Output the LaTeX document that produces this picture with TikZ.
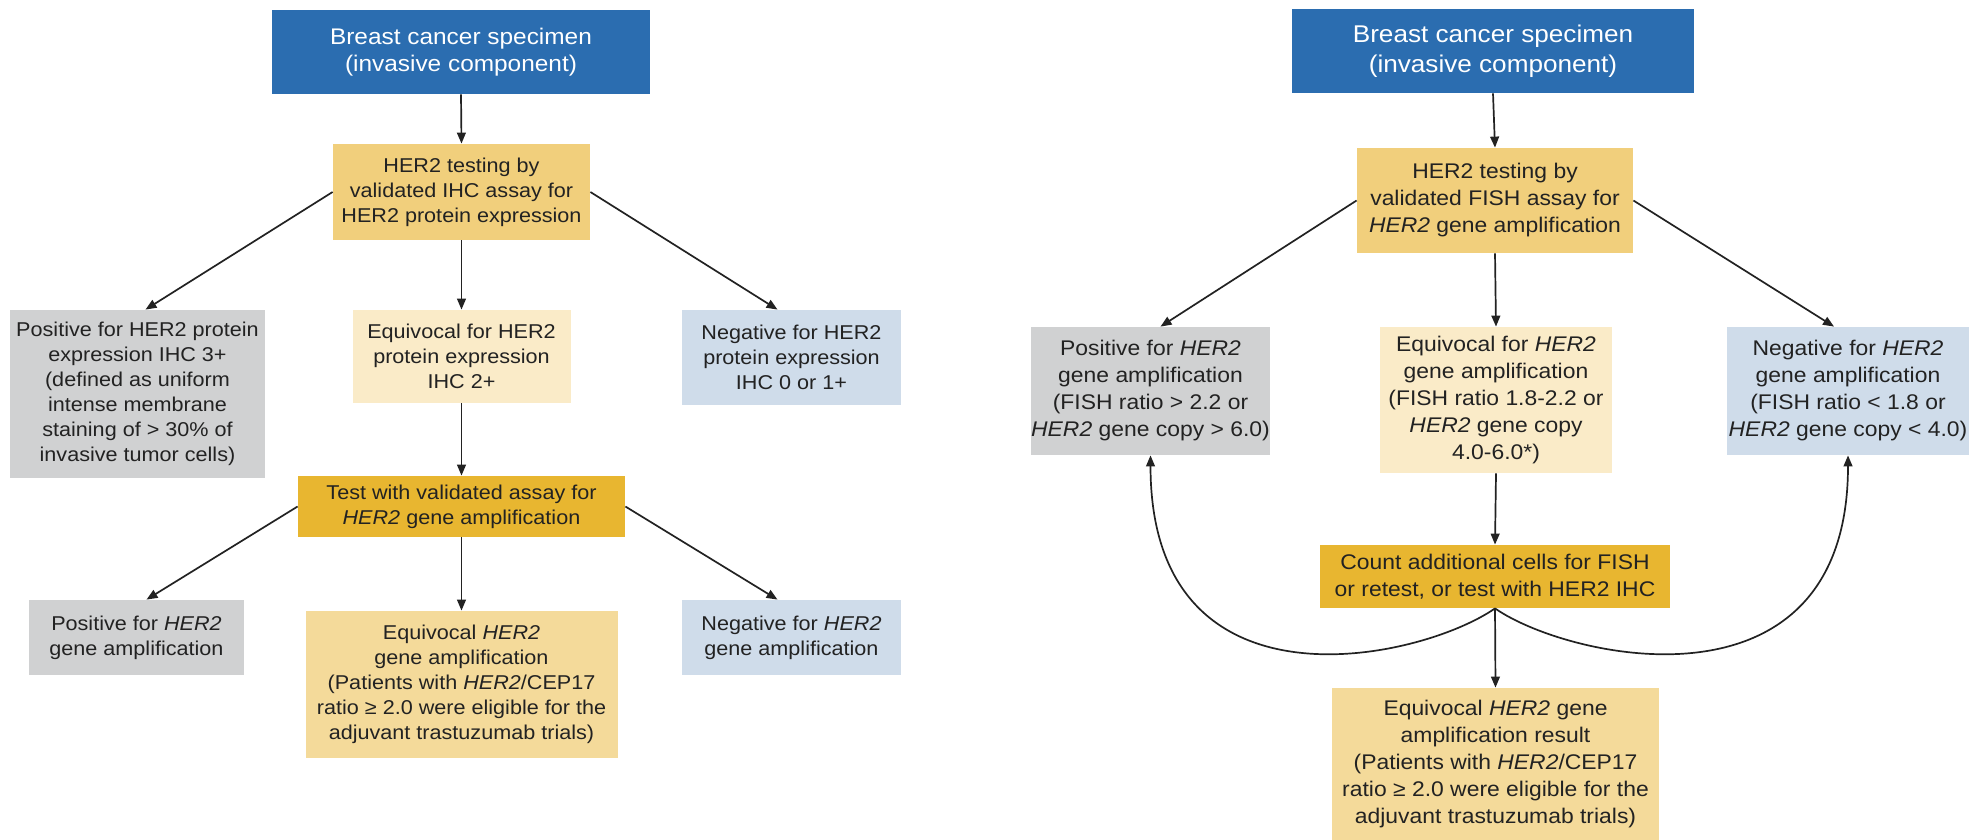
\documentclass[tikz,border=0pt]{standalone}
\usepackage{fontspec}
\setmainfont{Liberation Sans}[FakeStretch=1.08]
\usetikzlibrary{arrows.meta}
\definecolor{cblue}{HTML}{2B6DB0}
\definecolor{cgold}{HTML}{F1CF7C}
\definecolor{cgray}{HTML}{D0D1D2}
\definecolor{clight}{HTML}{FAEBC8}
\definecolor{cneg}{HTML}{CFDCEA}
\definecolor{cdark}{HTML}{E8B630}
\definecolor{cmed}{HTML}{F4DA9A}
\definecolor{ctxt}{HTML}{222222}
\begin{document}
\begin{tikzpicture}[x=0.5pt,y=-0.5pt,
  bx/.style={inner sep=0pt, align=center, text=ctxt, font=\fontsize{10}{12.5}\selectfont},
  bxr/.style={bx, font=\fontsize{10.6}{13.5}\selectfont},
  sz/.style 2 args={minimum width=#1*0.5pt, minimum height=#2*0.5pt},
  arr/.style={-{Triangle[length=5.5pt,width=4.4pt]}, line width=0.85pt, draw=ctxt}]
\useasboundingbox[fill=white] (0,0) rectangle (1975,840);

% ---------------- left panel ----------------
\node[bx, sz={378}{84}, fill=cblue, text=white, font=\fontsize{11.3}{13.3}\selectfont] (bL) at (461,52)
  {Breast cancer specimen\\(invasive component)};
\node[bx, sz={257}{96}, fill=cgold] (ihc) at (461.5,192)
  {HER2 testing by\\validated IHC assay for\\HER2 protein expression};
\node[bx, sz={255}{168}, fill=cgray] (posI) at (137.5,394)
  {Positive for HER2 protein\\expression IHC 3+\\(defined as uniform\\intense membrane\\staining of > 30\% of\\invasive tumor cells)};
\node[bx, sz={218}{93}, fill=clight] (eqI) at (461.5,356.5)
  {Equivocal for HER2\\protein expression\\IHC 2+};
\node[bx, sz={219}{95}, fill=cneg] (negI) at (791.5,357.5)
  {Negative for HER2\\protein expression\\IHC 0 or 1+};
\node[bx, sz={327}{61}, fill=cdark] (test) at (461.5,506.5)
  {Test with validated assay for\\\textit{HER2} gene amplification};
\node[bx, sz={215}{75}, fill=cgray] (posG) at (136.5,637.5)
  {Positive for \textit{HER2}\\gene amplification};
\node[bx, sz={312}{147}, fill=cmed] (eqG) at (461.5,684.5)
  {Equivocal \textit{HER2}\\gene amplification\\(Patients with \textit{HER2}/CEP17\\ratio ≥ 2.0 were eligible for the\\adjuvant trastuzumab trials)};
\node[bx, sz={219}{75}, fill=cneg] (negG) at (791.5,637.5)
  {Negative for \textit{HER2}\\gene amplification};

\draw[arr] (bL.south) -- (ihc.north);
\draw[arr] (ihc.west) -- ([xshift=4pt]posI.north);
\draw[arr] (ihc.south) -- (eqI.north);
\draw[arr] (ihc.east) -- ([xshift=-7pt]negI.north);
\draw[arr] (eqI.south) -- (test.north);
\draw[arr] (test.west) -- ([xshift=5pt]posG.north);
\draw[arr] (test.south) -- (eqG.north);
\draw[arr] (test.east) -- ([xshift=-7pt]negG.north);

% ---------------- right panel ----------------
\node[bx, sz={402}{84}, fill=cblue, text=white, font=\fontsize{12.1}{15}\selectfont] (bR) at (1493,51)
  {Breast cancer specimen\\(invasive component)};
\node[bxr, sz={276}{105}, fill=cgold] (fish) at (1495,200.5)
  {HER2 testing by\\validated FISH assay for\\\textit{HER2} gene amplification};
\node[bxr, sz={239}{128}, fill=cgray] (posF) at (1150.5,391)
  {Positive for \textit{HER2}\\gene amplification\\(FISH ratio > 2.2 or\\\textit{HER2} gene copy > 6.0)};
\node[bxr, sz={232}{146}, fill=clight] (eqF) at (1496,400)
  {Equivocal for \textit{HER2}\\gene amplification\\(FISH ratio 1.8-2.2 or\\\textit{HER2} gene copy\\4.0-6.0*)};
\node[bxr, sz={242}{128}, fill=cneg] (negF) at (1848,391)
  {Negative for \textit{HER2}\\gene amplification\\(FISH ratio < 1.8 or\\\textit{HER2} gene copy < 4.0)};
\node[bxr, sz={350}{63}, fill=cdark] (count) at (1495,576.5)
  {Count additional cells for FISH\\or retest, or test with HER2 IHC};
\node[bxr, sz={327}{152}, fill=cmed] (final) at (1495.5,764)
  {Equivocal \textit{HER2} gene\\amplification result\\(Patients with \textit{HER2}/CEP17\\ratio ≥ 2.0 were eligible for the\\adjuvant trastuzumab trials)};

\draw[arr] (bR.south) -- (fish.north);
\draw[arr] (fish.west) -- ([xshift=5pt]posF.north);
\draw[arr] (fish.south) -- (eqF.north);
\draw[arr] (fish.east) -- ([xshift=-7pt]negF.north);
\draw[arr] (eqF.south) -- (count.north);
\draw[arr] (count.south) -- (final.north);
\draw[arr] (count.south) .. controls +(-75,52) and +(0,265) .. (posF.south);
\draw[arr] (count.south) .. controls +(75,52) and +(0,265) .. (negF.south);
\end{tikzpicture}
\end{document}
